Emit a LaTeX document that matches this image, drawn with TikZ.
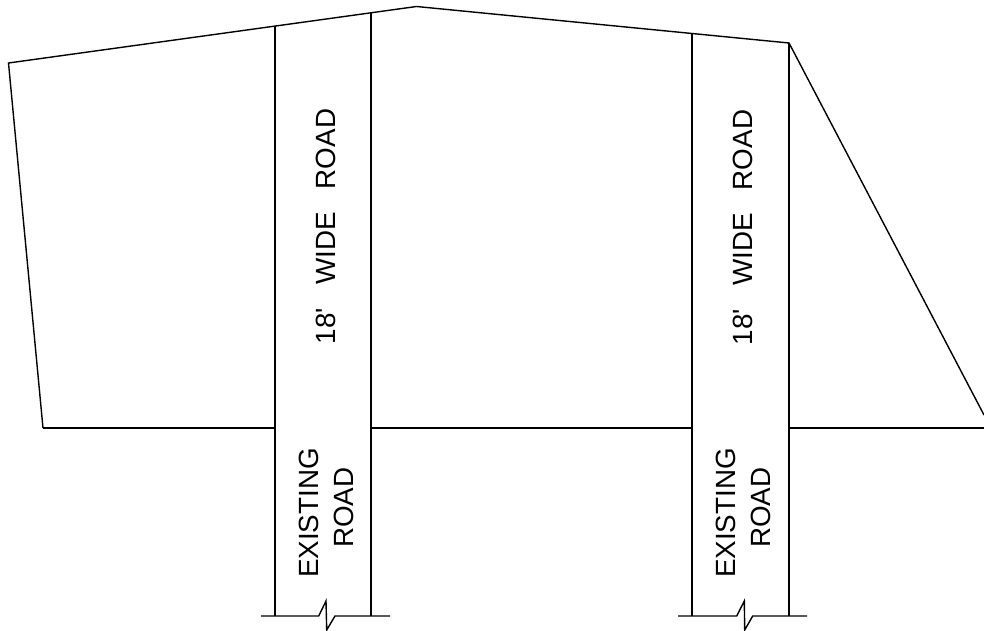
\documentclass[tikz,border=0pt]{standalone}
\usepackage{fontspec}
\setmainfont{Liberation Sans}[Ligatures=TeXOff]
\tikzset{
  plan/.style={draw=black,line width=1.4pt,line join=miter},
  roadtext/.style={inner sep=0pt,rotate=90,anchor=center,font=\fontsize{27.8}{30}\selectfont}
}
\begin{document}
\begin{tikzpicture}[x=1pt,y=-1pt]
\useasboundingbox (0,0) rectangle (984,631);
% site boundary
\draw[plan] (43,428) -- (8.5,63) -- (416.5,6.5) -- (789,43) -- (984,415);
% frontage
\draw[plan] (43,428) -- (275,428);
\draw[plan] (371,428) -- (692,428);
\draw[plan] (789,428) -- (984,428);
% roads
\draw[plan] (275,26.5) -- (275,616);
\draw[plan] (371,13.2) -- (371,616);
\draw[plan] (692,33.5) -- (692,616);
\draw[plan] (789,43) -- (789,616);
% break lines
\draw[plan] (261,616) -- (318.7,616) -- (326,601) -- (326.7,630) -- (335,616) -- (390,616);
\draw[plan] (678,616) -- (736.7,616) -- (744.3,601) -- (744.7,630) -- (752.7,616) -- (807,616);
% labels
\node[roadtext] (w1) at (326,226.5) {18'\ \ \ WIDE\ \ \ ROAD};
\node[roadtext] (w2) at (743,227.5) {18'\ \ \ WIDE\ \ \ ROAD};
\node[roadtext] (e1) at (309,513) {EXISTING};
\node[roadtext] (r1) at (343.5,507.7) {ROAD};
\node[roadtext] (e2) at (726,513) {EXISTING};
\node[roadtext] (r2) at (761,507.7) {ROAD};
\end{tikzpicture}
\end{document}
